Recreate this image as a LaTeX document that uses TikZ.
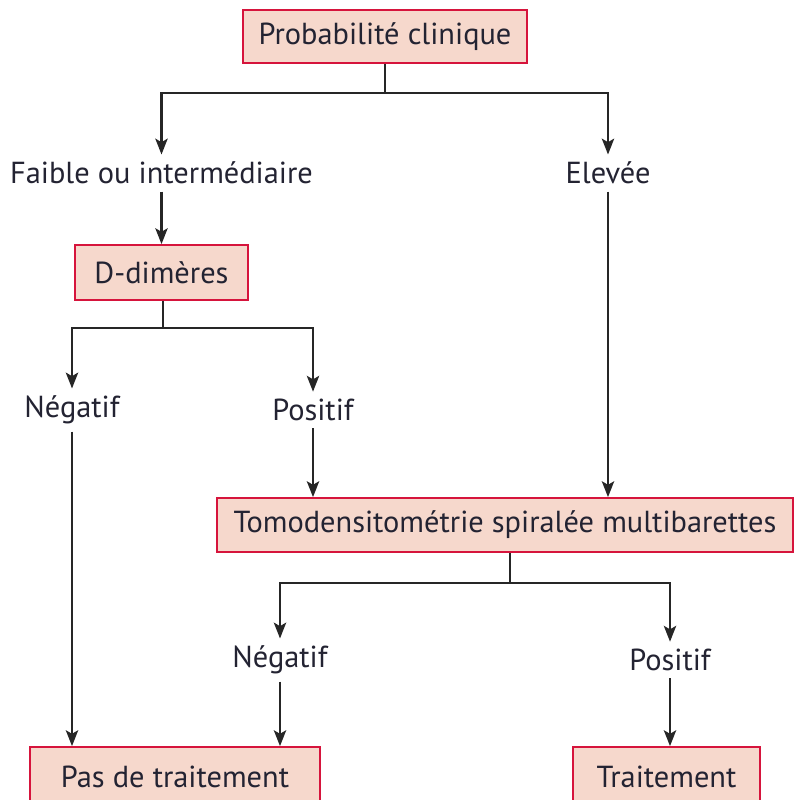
\documentclass[tikz,border=0pt]{standalone}
\usepackage{fontspec}
\setmainfont{PT Sans}
\usetikzlibrary{arrows.meta}
\definecolor{boxfill}{RGB}{246,216,204}
\definecolor{boxline}{RGB}{214,20,60}
\definecolor{txt}{RGB}{35,35,50}
\begin{document}
\begin{tikzpicture}[x=0.02cm,y=-0.02cm,
    every node/.style={font=\fontsize{17.3}{20}\selectfont,text=txt},
    box/.style={draw=boxline,fill=boxfill,line width=1pt,inner sep=0pt},
    lbl/.style={inner sep=4pt},
    line/.style={line width=1.3pt,black!85},
    arr/.style={line,-{Stealth[length=9pt,width=7pt,inset=2pt]}}]
  \useasboundingbox (0,0) rectangle (795,800);
  % boxes
  \node[box,minimum width=284*0.02cm,minimum height=53*0.02cm] (prob) at (385,36.5) {Probabilité clinique};
  \node[box,minimum width=173*0.02cm,minimum height=55*0.02cm] (ddim) at (161.5,272.5) {D-dimères};
  \node[box,minimum width=576*0.02cm,minimum height=54*0.02cm] (tomo) at (505,525) {Tomodensitométrie spiralée multibarettes};
  \node[box,minimum width=290*0.02cm,minimum height=60*0.02cm] (pas) at (175,777) {Pas de traitement};
  \node[box,minimum width=187*0.02cm,minimum height=60*0.02cm] (trait) at (666.5,777) {Traitement};
  % labels
  \node[lbl] (faible) at (161.5,173) {Faible ou intermédiaire};
  \node[lbl] (elevee) at (608,173) {Elevée};
  \node[lbl] (neg1) at (72,410) {Négatif};
  \node[lbl] (pos1) at (313,410) {Positif};
  \node[lbl] (neg2) at (280,660) {Négatif};
  \node[lbl] (pos2) at (670,660) {Positif};
  % connectors
  \coordinate (j1) at (385,93);
  \draw[line] (prob) -- (j1);
  \draw[arr] (j1) -| (faible);
  \draw[arr] (j1) -| (elevee);
  \draw[arr] (faible) -- (ddim);
  \coordinate (j2) at (163,328);
  \draw[line] (ddim.south -| j2) -- (j2);
  \draw[arr] (j2) -| (neg1);
  \draw[arr] (j2) -| (pos1);
  \draw[arr] (neg1) -- (neg1 |- pas.north);
  \draw[arr] (pos1) -- (pos1 |- tomo.north);
  \draw[arr] (elevee) -- (elevee |- tomo.north);
  \coordinate (j3) at (510,583);
  \draw[line] (tomo.south -| j3) -- (j3);
  \draw[arr] (j3) -| (neg2);
  \draw[arr] (j3) -| (pos2);
  \draw[arr] (neg2) -- (neg2 |- pas.north);
  \draw[arr] (pos2) -- (pos2 |- trait.north);
\end{tikzpicture}
\end{document}
